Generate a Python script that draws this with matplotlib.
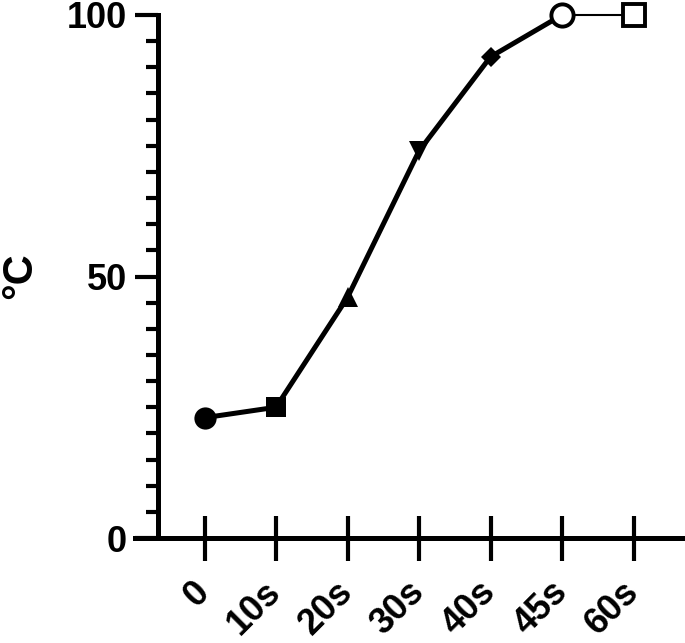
import numpy as np
import matplotlib
matplotlib.use('Agg')
import matplotlib.pyplot as plt
from matplotlib.ticker import MultipleLocator

plt.rcParams['font.family'] = ['Liberation Sans', 'DejaVu Sans']
plt.rcParams['font.weight'] = 'bold'

# Data
times = ['0', '10s', '20s', '30s', '40s', '45s', '60s']
temps = [23, 25, 46, 74, 92, 100, 100]
markers = ['o', 's', '^', 'v', 'D', 'o', 's']
sizes = [16, 15, 15, 15, 10.5, 16, 16]
filled = [True, True, True, True, True, False, False]

x = np.arange(len(times))

fig = plt.figure(figsize=(6.85, 6.43), dpi=100)
ax = fig.add_axes([135 / 685, 105 / 643, 550 / 685, 523 / 643])

# thick line up to 45s, thin one after
ax.plot(x[:6], temps[:6], color='black', lw=3.6, zorder=2, clip_on=False)
ax.plot(x[5:], temps[5:], color='black', lw=1.5, zorder=2, clip_on=False)

for xi, yi, m, s, f in zip(x, temps, markers, sizes, filled):
    if f:
        ax.plot(xi, yi, marker=m, ms=s, color='black', mec='black', mew=0,
                zorder=3, clip_on=False)
    else:
        ax.plot(xi, yi, marker=m, ms=s, mfc='white', mec='black', mew=2.8,
                zorder=3, clip_on=False)

ax.set_xlim(-0.972, 6.72)
ax.set_ylim(0, 100)

for side in ['top', 'right']:
    ax.spines[side].set_visible(False)
ax.spines['left'].set_position(('data', -0.65))
ax.spines['left'].set_linewidth(3.6)
ax.spines['bottom'].set_linewidth(3.6)

ax.set_yticks([0, 50, 100])
ax.yaxis.set_minor_locator(MultipleLocator(5))
ax.tick_params(axis='y', which='major', length=16.5, width=3, pad=6,
               labelsize=26)
ax.tick_params(axis='y', which='minor', length=8.6, width=3)

ax.set_xticks(x)
ax.set_xticklabels(times, rotation=45, ha='right', va='center',
                   rotation_mode='anchor')
ax.tick_params(axis='x', direction='inout', length=32.4, width=3, pad=19,
               labelsize=26)

fig.text(20 / 685, 1 - 276 / 643, '°C', rotation=90, ha='center',
         va='center', fontsize=30, fontweight='bold')

fig.savefig('out.png', dpi=100)
